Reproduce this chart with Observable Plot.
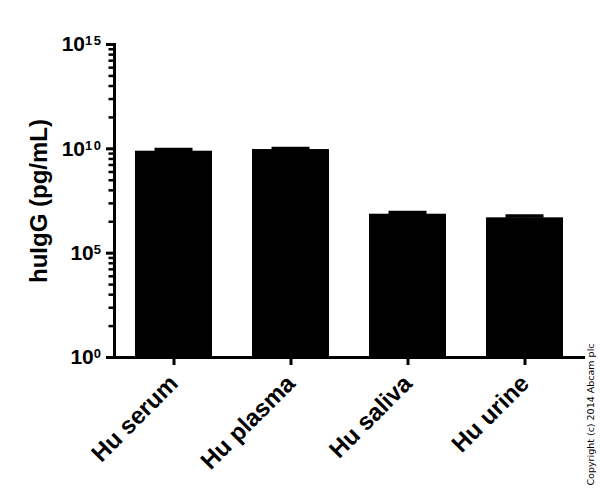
<!DOCTYPE html>
<html><head><meta charset="utf-8">
<script src="https://cdn.jsdelivr.net/npm/d3@7"></script>
<script src="https://cdn.jsdelivr.net/npm/@observablehq/plot@0.6"></script>
<style>body{margin:0;background:#fff} #chart{width:600px;height:497px}</style>
</head><body><div id="chart"></div>
<script>
const categories = ["Hu serum", "Hu plasma", "Hu saliva", "Hu urine"];
const means = [7.7e9, 9.25e9, 7.35e6, 4.94e6];
const upper = [9.25e9, 1.03e10, 8.87e6, 6.03e6];
const majorTicks = [1, 1e5, 1e10, 1e15];
const majorExponents = ["0", "5", "10", "15"];
const minorMultipliers = [32, 243, 1024, 3125, 7776, 16807, 32768, 59049];
const yLabel = "huIgG (pg/mL)";
const copyright = "Copyright (c) 2014 Abcam plc";

const data = categories.map((c, i) => ({category: c, mean: means[i], upper: upper[i]}));
const minorTicks = [];
for (const m of majorTicks.slice(0, 3)) for (const f of minorMultipliers) minorTicks.push(m * f);

const chart = Plot.plot({
  width: 600, height: 497,
  marginTop: 44, marginBottom: 140, marginLeft: 114, marginRight: 15,
  style: {fontFamily: "'Liberation Sans', Arial, sans-serif", fontWeight: "bold", background: "white", color: "black"},
  x: {domain: categories, paddingInner: 0.34, paddingOuter: 0.17, label: null},
  y: {type: "log", domain: [1, 1e15], label: null},
  marks: [
    Plot.barY(data, {x: "category", y1: 1, y2: "mean", fill: "black"}),
    Plot.ruleX(data, {x: "category", y1: "mean", y2: "upper", stroke: "black", strokeWidth: 3}),
    Plot.tickY(data, {x: "category", y: "upper", stroke: "black", strokeWidth: 3.5, insetLeft: 19.5, insetRight: 19.5}),
    Plot.axisY(minorTicks, {tickSize: 5.5, strokeWidth: 2.5, stroke: "black", text: null, label: null}),
    Plot.axisY(majorTicks, {tickSize: 8, tickPadding: 4, strokeWidth: 3, stroke: "black", tickFormat: () => "10", fontSize: 21, label: null}),
    Plot.axisX({tickRotate: -45, tickSize: 8, tickPadding: 14, strokeWidth: 3, stroke: "black", fontSize: 24, label: null}),
    Plot.ruleY([1], {stroke: "black", strokeWidth: 3}),
    Plot.frame({anchor: "left", strokeWidth: 3, stroke: "black"}),
    Plot.text([yLabel], {frameAnchor: "left", dx: -75, rotate: -90, fontSize: 24, fontWeight: "bold", textAnchor: "middle"}),
    Plot.text([copyright], {frameAnchor: "bottom-right", dx: 8, dy: 57, rotate: -90, fontSize: 9.5, fontWeight: "normal", fontFamily: "'DejaVu Sans', sans-serif", textAnchor: "middle"})
  ]
});

let idx = 0;
d3.select(chart).selectAll('g[aria-label="y-axis tick label"] text').each(function() {
  if (this.textContent === "10" && idx < majorExponents.length) {
    d3.select(this).append("tspan").attr("font-size", 13).attr("letter-spacing", 1.5).attr("dy", "-0.45em").text(majorExponents[idx]);
    idx++;
  }
});

document.getElementById("chart").appendChild(chart);
</script>
</body></html>
